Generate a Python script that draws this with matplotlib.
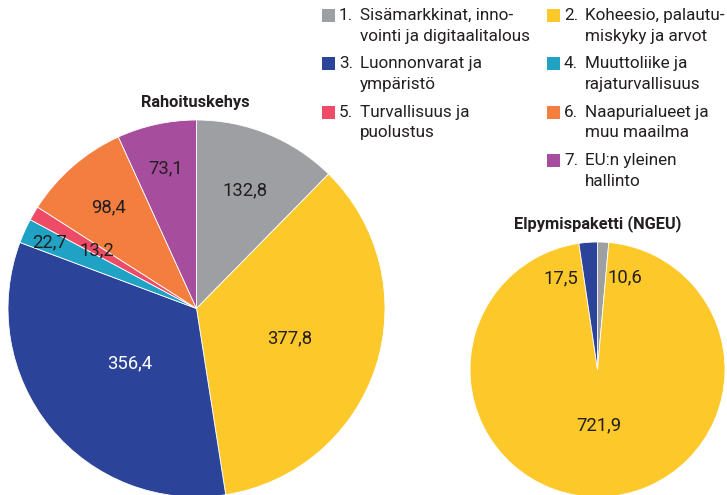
import numpy as np
import matplotlib
matplotlib.use("Agg")
import matplotlib.pyplot as plt
from matplotlib.patches import Rectangle

# ---- data ----
categories = [
    "Sisämarkkinat, inno-\nvointi ja digitaalitalous",
    "Koheesio, palautu-\nmiskyky ja arvot",
    "Luonnonvarat ja\nympäristö",
    "Muuttoliike ja\nrajaturvallisuus",
    "Turvallisuus ja\npuolustus",
    "Naapurialueet ja\nmuu maailma",
    "EU:n yleinen\nhallinto",
]
colors = ["#9d9fa2", "#fdc82a", "#2b4499", "#20a2c4", "#ee4b66", "#f37e3f", "#a64d9d"]
mff_values = [132.8, 377.8, 356.4, 22.7, 13.2, 98.4, 73.1]
mff_labels = ["132,8", "377,8", "356,4", "22,7", "13,2", "98,4", "73,1"]
ngeu_values = [10.6, 721.9, 17.5]
ngeu_labels = ["10,6", "721,9", "17,5"]
ngeu_cats = [0, 1, 2]
title_mff = "Rahoituskehys"
title_ngeu = "Elpymispaketti (NGEU)"

W, H = 727, 495
TXT = "#231f20"
plt.rcParams['font.family'] = ['Roboto', 'DejaVu Sans']
LBL = 13.3
LEG = 12.3

fig = plt.figure(figsize=(W / 100, H / 100), dpi=100)


def px_axes(x0, y0, x1, y1):
    return fig.add_axes([x0 / W, 1 - y1 / H, (x1 - x0) / W, (y1 - y0) / H])


def fx(x):
    return x / W


def fy(y):
    return 1 - y / H


def mid_angles(vals):
    vals = np.asarray(vals, float)
    cum = np.cumsum(vals) / vals.sum() * 360
    start = cum - vals / vals.sum() * 360
    return (start + cum) / 2


# ---- left pie ----
ax1 = px_axes(8, 120, 385, 497)
ax1.pie(mff_values, colors=colors, startangle=90, counterclock=False, radius=1,
        wedgeprops=dict(edgecolor="white", linewidth=0.6))
ax1.set_xlim(-1, 1)
ax1.set_ylim(-1, 1)
ax1.axis("off")
dists = [0.68, 0.52, 0.46, 0.855, 0.61, 0.71, 0.76]
for lab, a, d, c in zip(mff_labels, mid_angles(mff_values), dists,
                        [TXT, TXT, "white", TXT, TXT, TXT, TXT]):
    t = np.deg2rad(a)
    ax1.text(d * np.sin(t), d * np.cos(t), lab, ha="center", va="center",
             fontsize=LBL, color=c)

# ---- right pie ----
ax2 = px_axes(470, 242, 725, 497)
ax2.pie(ngeu_values, colors=[colors[i] for i in ngeu_cats], startangle=90,
        counterclock=False, radius=1,
        wedgeprops=dict(edgecolor="white", linewidth=0.6))
ax2.set_xlim(-1, 1)
ax2.set_ylim(-1, 1)
ax2.axis("off")
ma = mid_angles(ngeu_values)
t = np.deg2rad(ma)
ax2.text(0.72 * np.sin(t[0]) + 0.05, 0.72 * np.cos(t[0]), ngeu_labels[0],
         ha="left", va="center", fontsize=LBL, color=TXT)
ax2.text(0.44 * np.sin(t[1]), 0.44 * np.cos(t[1]), ngeu_labels[1],
         ha="center", va="center", fontsize=LBL, color=TXT)
ax2.text(0.72 * np.sin(t[2]) - 0.1, 0.72 * np.cos(t[2]), ngeu_labels[2],
         ha="right", va="center", fontsize=LBL, color=TXT)

# ---- titles ----
fig.text(fx(195.5), fy(103), title_mff, ha="center", va="center",
         fontsize=11.8, fontweight="bold", color=TXT)
fig.text(fx(597.5), fy(224), title_ngeu, ha="center", va="center",
         fontsize=11.8, fontweight="bold", color=TXT)

# ---- legend ----
grid = [(0, 0), (0, 1), (1, 0), (1, 1), (2, 0), (2, 1), (3, 1)]
for i, (lab, col) in enumerate(zip(categories, colors)):
    r, c = grid[i]
    xoff = 225 * c
    yc = 15.5 + 48.3 * r
    fig.patches.append(Rectangle((fx(322 + xoff), fy(yc + 6.5)), 13 / W, 13 / H,
                                 transform=fig.transFigure, color=col, lw=0))
    fig.text(fx(339 + xoff), fy(yc), f"{i + 1}.", ha="left", va="center",
             fontsize=LEG, color=TXT)
    lines = lab.split("\n")
    for k, ln in enumerate(lines):
        fig.text(fx(360 + xoff), fy(yc + 20.7 * k), ln, ha="left", va="center",
                 fontsize=LEG, color=TXT)

fig.savefig("out.png", dpi=100)
